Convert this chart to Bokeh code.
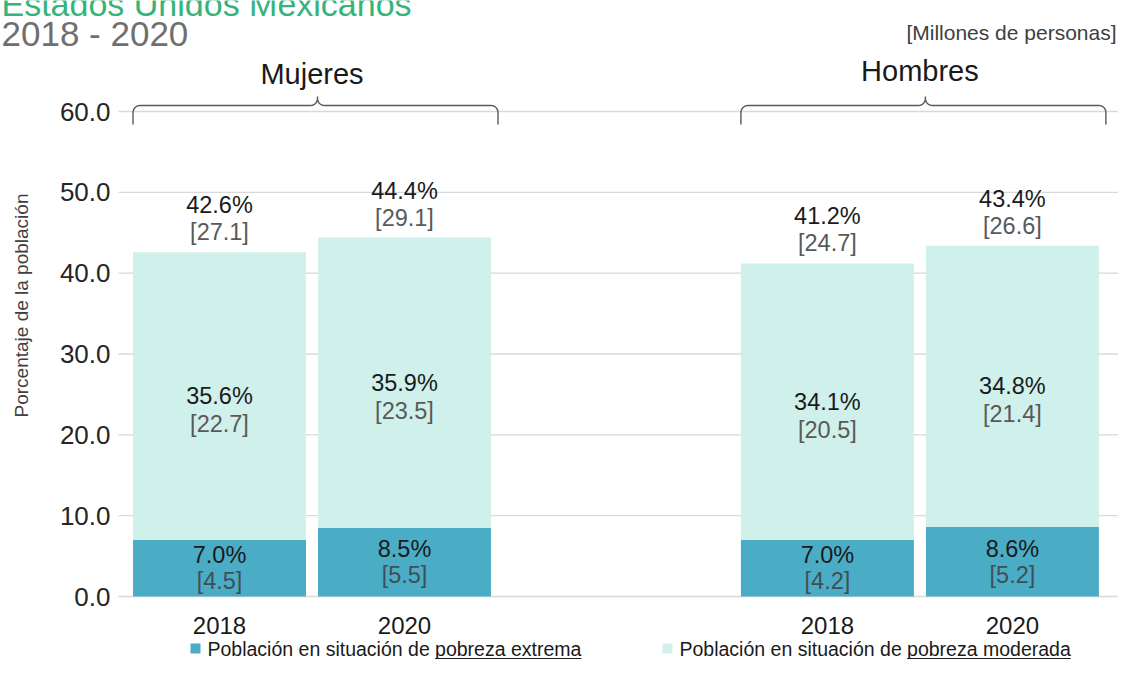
import math
from bokeh.plotting import figure
from bokeh.models import Range1d
from bokeh.core.properties import value
from bokeh.embed import file_html
from bokeh.resources import INLINE

# ---------------- data ----------------
groups = ["Mujeres", "Hombres"]
years = ["2018", "2020"]
extrema_pct = [7.0, 8.5, 7.0, 8.6]
moderada_pct = [35.6, 35.9, 34.1, 34.8]
total_pct = [42.6, 44.4, 41.2, 43.4]
extrema_mill = [4.5, 5.5, 4.2, 5.2]
moderada_mill = [22.7, 23.5, 20.5, 21.4]
total_mill = [27.1, 29.1, 24.7, 26.6]
y_ticks = [0, 10, 20, 30, 40, 50, 60]
legend_prefix = "Población en situación de"
legend_terms = ["pobreza extrema", "pobreza moderada"]
title_main = "Estados Unidos Mexicanos"
title_years = "2018 - 2020"
units_note = "[Millones de personas]"
y_title = "Porcentaje de la población"

# ---------------- layout ----------------
W, H = 1118, 659
SLOT = 185.0          # px between bar centres within a group
X0 = 219.0            # px of first bar centre
Y0 = 596.0            # px of y = 0
PPU = 485.0 / 60      # px per percentage point
GROUP_STEP = 3.286    # slots between groups
BAR_W = 0.935

FONT = value("Liberation Sans")
C_EXT = "#4BACC6"
C_MOD = "#CFF0EB"
C_GRID = "#D9D9D9"
C_TXT = "#1A1A1A"
C_GRAY = "#595959"


def fx(px):
    return (px - X0) / SLOT


def fy(py):
    return (Y0 - py) / PPU


def px_y(px):
    return px / PPU


xpos = [g * GROUP_STEP + i for g in range(len(groups)) for i in range(len(years))]

p = figure(width=W, height=H, output_backend="svg", toolbar_location=None,
           x_range=Range1d(-X0 / SLOT, (W - X0) / SLOT),
           y_range=Range1d(-(H - Y0) / PPU, Y0 / PPU),
           x_axis_type=None, y_axis_type=None, min_border=0)
p.outline_line_color = None
p.background_fill_color = "white"
p.border_fill_color = "white"

# gridlines
p.segment(x0=fx(118), x1=(W - X0) / SLOT, y0=y_ticks, y1=y_ticks,
          line_color=C_GRID, line_width=1.3)

# bars
p.vbar(x=xpos, bottom=0, top=extrema_pct, width=BAR_W, fill_color=C_EXT, line_color=None)
p.vbar(x=xpos, bottom=extrema_pct, top=total_pct, width=BAR_W, fill_color=C_MOD, line_color=None)

# tick labels
p.text(x=fx(110), y=y_ticks, text=[f"{t:.1f}" for t in y_ticks], text_font=FONT,
       text_font_size="26px", text_align="right", text_baseline="middle", text_color="#262626")

# x labels
p.text(x=xpos, y=fy(625), text=years * len(groups), text_font=FONT, text_font_size="24px",
       text_align="center", text_baseline="middle", text_color=C_TXT)

# y title
p.text(x=[fx(21)], y=[fy(305)], text=[y_title], angle=math.pi / 2, text_font=FONT,
       text_font_size="19px", text_align="center", text_baseline="middle", text_color="#404040")

# value labels
LBL = "23.5px"
ext_mid = [e / 2 for e in extrema_pct]
mod_mid = [(e + t) / 2 for e, t in zip(extrema_pct, total_pct)]
p.text(x=xpos, y=[m + px_y(13) for m in ext_mid], text=[f"{v:.1f}%" for v in extrema_pct],
       text_font=FONT, text_font_size=LBL, text_align="center", text_baseline="middle", text_color=C_TXT)
p.text(x=xpos, y=[m - px_y(13) for m in ext_mid], text=[f"[{v:.1f}]" for v in extrema_mill],
       text_font=FONT, text_font_size=LBL, text_align="center", text_baseline="middle", text_color="#3F4F55")
p.text(x=xpos, y=mod_mid, text=[f"{v:.1f}%" for v in moderada_pct],
       text_font=FONT, text_font_size=LBL, text_align="center", text_baseline="middle", text_color=C_TXT)
p.text(x=xpos, y=[m - px_y(28) for m in mod_mid], text=[f"[{v:.1f}]" for v in moderada_mill],
       text_font=FONT, text_font_size=LBL, text_align="center", text_baseline="middle", text_color=C_GRAY)
p.text(x=xpos, y=[t + px_y(47) for t in total_pct], text=[f"{v:.1f}%" for v in total_pct],
       text_font=FONT, text_font_size=LBL, text_align="center", text_baseline="middle", text_color=C_TXT)
p.text(x=xpos, y=[t + px_y(20) for t in total_pct], text=[f"[{v:.1f}]" for v in total_mill],
       text_font=FONT, text_font_size=LBL, text_align="center", text_baseline="middle", text_color=C_GRAY)


# braces over groups
def brace(L, R, C, ybar, ytop, yend, r=7, n=8):
    pts = [(L, yend), (L, ybar + r)]

    def arc(cx, cy, t0, t1):
        return [(cx + r * math.cos(t0 + (t1 - t0) * k / n), cy + r * math.sin(t0 + (t1 - t0) * k / n))
                for k in range(n + 1)]
    pts += arc(L + r, ybar + r, math.pi, 1.5 * math.pi)
    pts += arc(C - r, ybar - r, 0.5 * math.pi, 0)
    pts += [(C, ytop)]
    pts += arc(C + r, ybar - r, math.pi, 0.5 * math.pi)
    pts += arc(R - r, ybar + r, 1.5 * math.pi, 2 * math.pi)
    pts += [(R, yend)]
    return [fx(a) for a, b in pts], [fy(b) for a, b in pts]


bx, by = [], []
for g in range(len(groups)):
    left_bar = xpos[g * len(years)]
    right_bar = xpos[g * len(years) + len(years) - 1]
    Lp = (left_bar - BAR_W / 2) * SLOT + X0
    Rp = (right_bar + BAR_W / 2) * SLOT + X0 + 7
    Cp = (Lp + Rp) / 2 + 2
    xs, ys = brace(Lp, Rp, Cp, 105, 96, 124)
    bx.append(xs)
    by.append(ys)
p.multi_line(xs=bx, ys=by, line_color=C_GRAY, line_width=1.4)

group_centers = [(xpos[g * 2] + xpos[g * 2 + 1]) / 2 for g in range(len(groups))]
p.text(x=group_centers, y=[fy(73), fy(70)], text=groups, text_font=FONT, text_font_size="29px",
       text_align="center", text_baseline="middle", text_color=C_TXT)

# titles (the first line is cut by the top edge, as in the original)
p.text(x=[fx(1)], y=[fy(3)], text=[title_main], text_font=FONT, text_font_size="34px",
       text_align="left", text_baseline="middle", text_color="#35B37B")
p.text(x=[fx(1)], y=[fy(33)], text=[title_years], text_font=FONT, text_font_size="35px",
       text_align="left", text_baseline="middle", text_color="#6F6F6F")
p.text(x=[fx(1116)], y=[fy(32)], text=[units_note], text_font=FONT, text_font_size="21px",
       text_align="right", text_baseline="middle", text_color="#404040")

# legend
LEG_FS = 19.5
LEG_MID = 648
leg_sq = [195, 667]
leg_colors = [C_EXT, C_MOD]
p.scatter(x=[fx(s) for s in leg_sq], y=[fy(LEG_MID)] * 2, marker="square", size=10,
          fill_color=leg_colors, line_color=None)
prefix_w = 11.67 * LEG_FS
term_w = [7.50 * LEG_FS, 8.39 * LEG_FS]
starts = [s + 12 for s in leg_sq]
p.text(x=[fx(s) for s in starts], y=[fy(LEG_MID)] * 2, text=[legend_prefix] * 2, text_font=FONT,
       text_font_size=f"{LEG_FS}px", text_align="left", text_baseline="middle", text_color=C_TXT)
term_x = [s + prefix_w for s in starts]
p.text(x=[fx(s) for s in term_x], y=[fy(LEG_MID)] * 2, text=legend_terms, text_font=FONT,
       text_font_size=f"{LEG_FS}px", text_align="left", text_baseline="middle", text_color=C_TXT)
p.segment(x0=[fx(s) for s in term_x], x1=[fx(s + w) for s, w in zip(term_x, term_w)],
          y0=[fy(LEG_MID + 10)] * 2, y1=[fy(LEG_MID + 10)] * 2, line_color=C_TXT, line_width=1.2)

open("out.html", "w").write(file_html(p, INLINE))
